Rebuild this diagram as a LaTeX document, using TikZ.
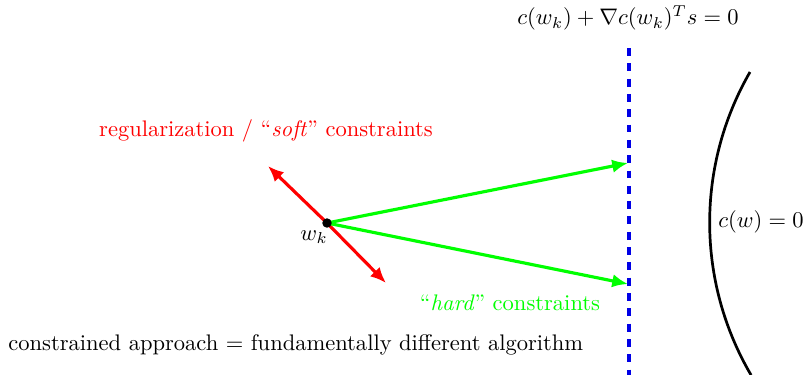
\documentclass[tikz,border=0pt]{standalone}
\usetikzlibrary{arrows.meta}
\definecolor{myred}{RGB}{255,0,0}
\definecolor{mygreen}{RGB}{0,255,0}
\definecolor{myblue}{RGB}{0,0,230}
\begin{document}
\begin{tikzpicture}[x=0.444pt,y=-0.444pt,
  redarrow/.style={draw=myred,line width=1.4pt,-{Latex[length=7pt,width=6pt]}},
  greenarrow/.style={draw=mygreen,line width=1.4pt,-{Latex[length=7pt,width=6pt]}},
  lbl/.style={inner sep=0pt}]
\useasboundingbox (0,0) rectangle (808,374);
\coordinate (wk) at (327,223);
\coordinate (r1) at (268,166);
\coordinate (r2) at (386,283);
\coordinate (g1) at (628,163);
\coordinate (g2) at (628,284);
\coordinate (bt) at (629,48);
\coordinate (bb) at (629,376);
\draw[redarrow] (wk) -- (r1);
\draw[redarrow] (wk) -- (r2);
\draw[greenarrow] (wk) -- (g1);
\draw[greenarrow] (wk) -- (g2);
\fill (wk) circle (2.1pt);
\draw[myblue,line width=1.6pt,dash pattern=on 3.5pt off 3.3pt] (bt) -- (bb);
\draw[line width=1.2pt] (750,72) arc[start angle=210, end angle=149.6, radius=301.25];
\node[lbl] (lin) at (628,18) {$c(w_k)+\nabla c(w_k)^T s = 0$};
\node[lbl,text=myred] (soft) at (266,131) {regularization / ``\emph{soft}'' constraints};
\node[lbl,text=mygreen] (hard) at (510,303) {``\emph{hard}'' constraints};
\node[lbl] (wl) at (314,237) {$w_k$};
\node[lbl,anchor=west] (cw) at (718,222) {$c(w)=0$};
\node[lbl,anchor=west] (ca) at (8,345) {constrained approach = fundamentally different algorithm};
\end{tikzpicture}
\end{document}
